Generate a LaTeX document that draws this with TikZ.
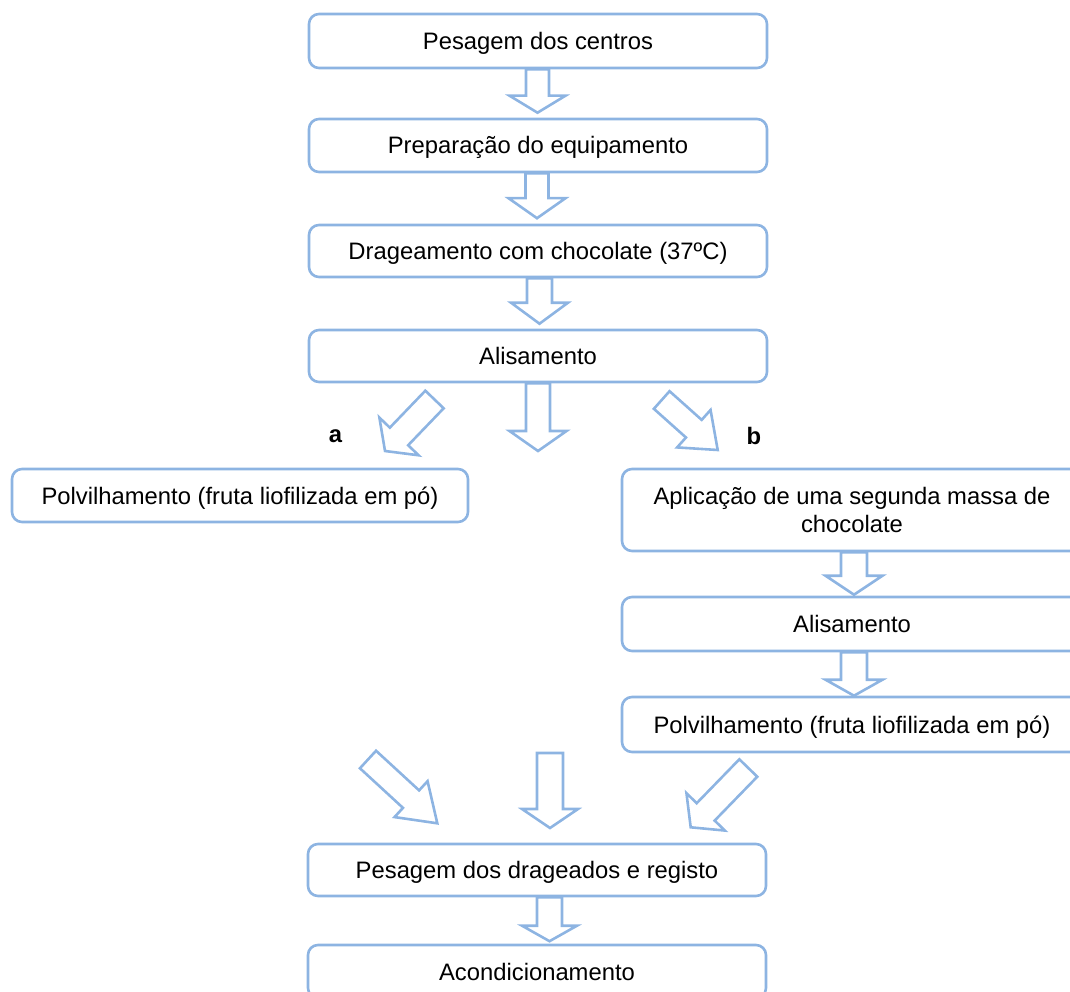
\documentclass[tikz,border=0pt]{standalone}
\usepackage{fontspec}
\setmainfont{Liberation Sans}
\usetikzlibrary{calc}
\definecolor{boxblue}{RGB}{141,180,226}
\tikzset{
  stepbox/.style={draw=boxblue, line width=2.6pt, rounded corners=10pt, fill=white,
    inner sep=0pt, align=center, font=\fontsize{23.8}{27.5}\selectfont},
  oneline/.style={stepbox, text height=17pt, text depth=0pt},
  blockarr/.style={draw=boxblue, line width=2.6pt, line join=miter},
  lbl/.style={font=\fontsize{23.8}{27.5}\selectfont\bfseries, inner sep=0pt}
}
% #1 tail, #2 tip, #3 shaft half width, #4 head half width, #5 head length
\newcommand{\blockarrow}[5]{%
  \draw[blockarr]
    ($(#1)!#3pt!90:(#2)$) --
    ($($(#2)!#5pt!(#1)$)!#3pt!90:(#2)$) --
    ($($(#2)!#5pt!(#1)$)!#4pt!90:(#2)$) --
    (#2) --
    ($($(#2)!#5pt!(#1)$)!#4pt!-90:(#2)$) --
    ($($(#2)!#5pt!(#1)$)!#3pt!-90:(#2)$) --
    ($(#1)!#3pt!-90:(#2)$) -- cycle;}
\begin{document}
\begin{tikzpicture}[x=1pt,y=-1pt]
\useasboundingbox (0,0) rectangle (1070,992);
\clip (0,0) rectangle (1070,992);

% main column
\node[oneline, minimum width=458pt, minimum height=54pt] (b1) at (538,41) {Pesagem dos centros};
\node[oneline, minimum width=458pt, minimum height=53pt] (b2) at (538,145.5) {Preparação do equipamento};
\node[oneline, minimum width=458pt, minimum height=52pt] (b3) at (538,251) {Drageamento com chocolate (37ºC)};
\node[oneline, minimum width=458pt, minimum height=52pt] (b4) at (538,356) {Alisamento};
\node[oneline, minimum width=456pt, minimum height=53pt] (l1) at (240,495.5) {Polvilhamento (fruta liofilizada em pó)};
\node[stepbox, minimum width=460pt, minimum height=82pt] (r1) at (852,510) {Aplicação de uma segunda massa de\\chocolate};
\node[oneline, minimum width=460pt, minimum height=54pt] (r2) at (852,624) {Alisamento};
\node[oneline, minimum width=460pt, minimum height=55pt] (r3) at (852,724.5) {Polvilhamento (fruta liofilizada em pó)};
\node[oneline, minimum width=458pt, minimum height=52pt] (b5) at (537,870) {Pesagem dos drageados e registo};
\node[oneline, minimum width=458pt, minimum height=53pt] (b6) at (537,971.5) {Acondicionamento};

\node[lbl] (la) at (335.5,436.5) {a};
\node[lbl] (lb) at (754,436) {b};

% arrow end points
\coordinate (a1t) at ($(b1.south)+(-0.5,0)$);
\coordinate (a1h) at ($(b2.north)+(-0.5,-5)$);
\coordinate (a2t) at ($(b2.south)+(-1,0)$);
\coordinate (a2h) at ($(b3.north)+(-1,-5.5)$);
\coordinate (a3t) at ($(b3.south)+(1.5,0)$);
\coordinate (a3h) at ($(b4.north)+(1.5,-5)$);
\coordinate (a4t) at (b4.south);
\coordinate (a4h) at (538,451);
\coordinate (dl1t) at (434.5,399.5);
\coordinate (dl1h) at (385,451);
\coordinate (dr1t) at (661.7,400);
\coordinate (dr1h) at (717.7,450);
\coordinate (ra1t) at ($(r1.south)+(2,0)$);
\coordinate (ra1h) at ($(r2.north)+(2,-1)$);
\coordinate (ra2t) at ($(r2.south)+(2,0)$);
\coordinate (ra2h) at ($(r3.north)+(2,0)$);
\coordinate (dl2t) at (368,759.5);
\coordinate (dl2h) at (437.3,823.3);
\coordinate (cbt) at (550,753);
\coordinate (cbh) at (550,828);
\coordinate (dr2t) at (748.3,768);
\coordinate (dr2h) at (690.7,827.3);
\coordinate (a5t) at ($(b5.south)+(12.5,0)$);
\coordinate (a5h) at ($(b6.north)+(12.5,-2.5)$);

\blockarrow{a1t}{a1h}{11.5}{28}{17}
\blockarrow{a2t}{a2h}{11.5}{28.5}{20}
\blockarrow{a3t}{a3h}{12.5}{28.5}{21}
\blockarrow{a4t}{a4h}{12}{28.5}{20}
\blockarrow{dl1t}{dl1h}{12.7}{27.2}{20.2}
\blockarrow{dr1t}{dr1h}{11.8}{25.1}{32}
\blockarrow{ra1t}{ra1h}{13}{28.5}{19}
\blockarrow{ra2t}{ra2h}{13}{28.5}{16}
\blockarrow{dl2t}{dl2h}{11.9}{24.4}{35.7}
\blockarrow{cbt}{cbh}{13}{28}{19}
\blockarrow{dr2t}{dr2h}{12.5}{26.8}{21.5}
\blockarrow{a5t}{a5h}{12.5}{27.5}{15.5}
\end{tikzpicture}
\end{document}
